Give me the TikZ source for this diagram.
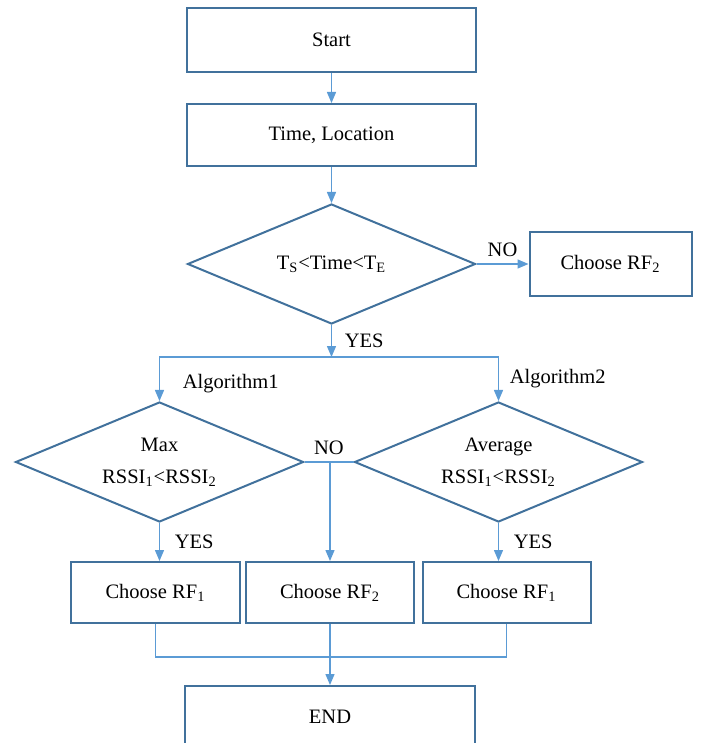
\documentclass[tikz,border=0pt]{standalone}
\usepackage{fontspec}
\setmainfont{Liberation Serif}
\usetikzlibrary{shapes.geometric, arrows.meta}
\definecolor{boxblue}{RGB}{65,113,156}
\definecolor{lineblue}{RGB}{91,155,213}
\tikzstyle{process} = [rectangle, minimum width=144.5pt, minimum height=31pt, text centered, draw=boxblue, line width=1pt]
\tikzstyle{rfbox} = [rectangle, minimum width=84pt, minimum height=30.5pt, text centered, draw=boxblue, line width=1pt]
\tikzstyle{decision} = [diamond, aspect=2.4, minimum width=144pt, minimum height=60pt, inner sep=0pt, align=center, draw=boxblue, line width=1pt]
\tikzstyle{flow} = [line width=0.7pt, draw=lineblue]
\tikzstyle{arrow} = [flow, ->, >={Triangle[length=5.5pt,width=4.5pt]}]
\begin{document}
\begin{tikzpicture}[node distance=47.5pt, font=\fontsize{10.25pt}{16pt}\selectfont]
                \useasboundingbox (-165.75pt,20pt) rectangle (185.25pt,-351.5pt);
                \node (start) [process, minimum height=32pt] {Start};
                \node (timeloc) [process, below of=start] {Time, Location};
                \node (timecheck) [decision, below of=timeloc, yshift=-17pt] {T\textsubscript{S}<Time<T\textsubscript{E}};
                \node (rftwoa) [rfbox, minimum width=81pt, minimum height=31.5pt, right of=timecheck, xshift=92pt] {Choose RF\textsubscript{2}};
                \node (maxcheck) [decision, below of=timecheck, xshift=-86pt, yshift=-51.5pt] {Max\\RSSI\textsubscript{1}<RSSI\textsubscript{2}};
                \node (avgcheck) [decision, right of=maxcheck, xshift=122pt] {Average\\RSSI\textsubscript{1}<RSSI\textsubscript{2}};
                \node (rfonea) [rfbox, below of=maxcheck, xshift=-2pt, yshift=-17.75pt] {Choose RF\textsubscript{1}};
                \node (rftwob) [rfbox, right of=rfonea, xshift=39.75pt] {Choose RF\textsubscript{2}};
                \node (rfoneb) [rfbox, right of=rftwob, xshift=40.75pt] {Choose RF\textsubscript{1}};
                \node (finish) [process, below of=rftwob, yshift=-14.75pt] {END};

                \coordinate [below of=timecheck, yshift=1pt] (split);
                \coordinate (splitl) at (maxcheck |- split);
                \coordinate (splitr) at (avgcheck |- split);
                \coordinate (nojoin) at (rftwob.north |- maxcheck.east);
                \coordinate [below of=rftwob, yshift=15.25pt] (merge);

                \draw [arrow] (start) -- (timeloc);
                \draw [arrow] (timeloc) -- (timecheck);
                \draw [arrow] (timecheck) -- node[anchor=south] {NO} (rftwoa);
                \draw [arrow] (timecheck) -- node[right=3pt] {YES} (split);
                \draw [flow] (splitl) -- (splitr);
                \draw [arrow] (splitl) -- node[right=8pt, pos=0.6] {Algorithm1} (maxcheck);
                \draw [arrow] (splitr) -- node[right=2pt] {Algorithm2} (avgcheck);
                \draw [flow] (maxcheck.east) -- node[anchor=south] {NO} (avgcheck.west);
                \draw [arrow] (nojoin) -- (rftwob);
                \draw [arrow] (maxcheck) -- node[right=4pt] {YES} (maxcheck.south |- rfonea.north);
                \draw [arrow] (avgcheck) -- node[right=4pt] {YES} (avgcheck.south |- rfoneb.north);
                \draw [flow] (rfonea.south) -- (rfonea.south |- merge) -- (rfoneb.south |- merge) -- (rfoneb.south);
                \draw [arrow] (rftwob) -- (finish);
            \end{tikzpicture}
\end{document}
